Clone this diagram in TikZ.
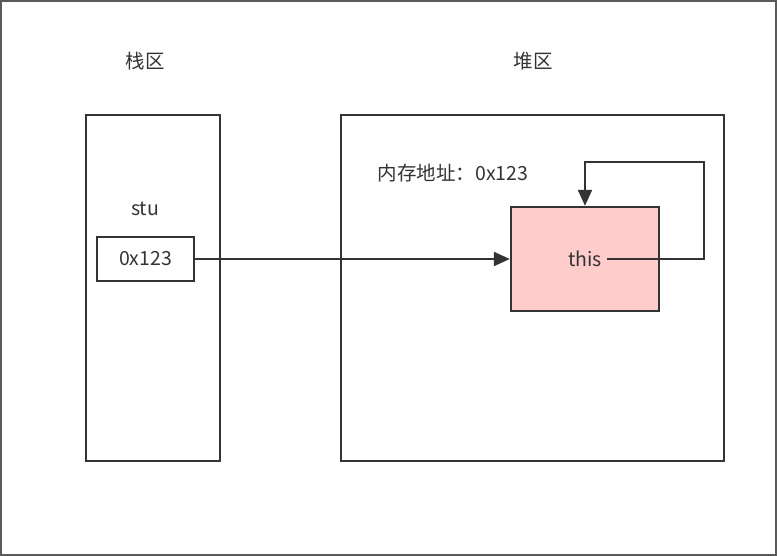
\documentclass[tikz,border=0pt]{standalone}
\usepackage{fontspec}
\setmainfont{Noto Sans CJK SC}
\usepackage{tikz}
\usetikzlibrary{arrows.meta,positioning}
\definecolor{linegray}{HTML}{333333}
\definecolor{framegray}{HTML}{5A5A5A}
\definecolor{objpink}{HTML}{FFCCCC}

\begin{document}
\begin{tikzpicture}[x=1pt, y=-1pt, font=\fontsize{19.5}{23}\selectfont, text=linegray,
  area/.style={draw=linegray, line width=2.4pt, minimum width=134pt, minimum height=346pt},
  cell/.style={draw=linegray, line width=2.4pt, minimum width=97pt, minimum height=44pt},
  ptr/.style={-{Triangle[length=16pt, width=14pt]}, draw=linegray, line width=2.2pt}]
\useasboundingbox (0,0) rectangle (777,556);
\draw[framegray, line width=2.5pt] (0.5,0.8) rectangle (776.2,554.8);
\node[area] (stack) at (153,288) {};
\node[area, minimum width=383pt] (heap) at (532.5,288) {};
\node (stacklabel) at (145,61) {栈区};
\node (heaplabel) at (533,61) {堆区};
\node (stu) at (145,209) {stu};
\node[cell] (addr) at (145.5,259) {0x123};
\node (addrlabel) at (453,173) {内存地址：0x123};
\node[draw=linegray, fill=objpink, line width=2.4pt, minimum width=148pt, minimum height=104pt] (obj) at (585,259) {};
\node[inner sep=5pt] (this) at (585,259) {this};
\coordinate (loop) at (704,162);
\draw[ptr] (addr) -- (obj);
\draw[ptr] (this.east) -| (loop) -| (obj.north);
\end{tikzpicture}
\end{document}
